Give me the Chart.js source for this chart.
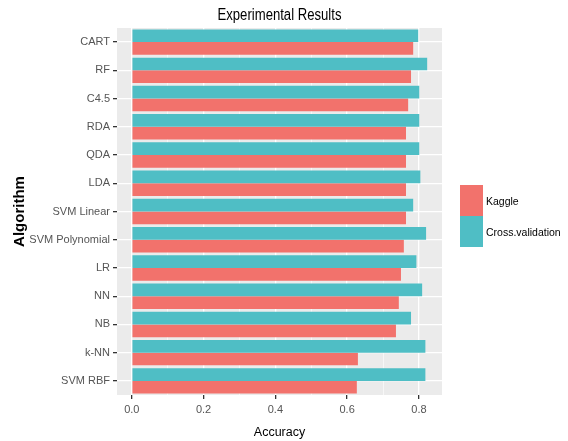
<!DOCTYPE html>
<html>
<head>
<meta charset="utf-8">
<script src="https://cdn.jsdelivr.net/npm/chart.js@4/dist/chart.umd.min.js"></script>
<style>
  html, body { margin: 0; padding: 0; background: #fff; }
  #wrap { position: relative; width: 568px; height: 441px; }
  #title { position: absolute; left: 179px; width: 201px; top: 5px; text-align: center; font-family: "Liberation Sans", Arial, sans-serif; font-size: 16px; line-height: 20px; color: #000; transform: scaleX(0.82); white-space: nowrap; }
  #legend { position: absolute; left: 460px; top: 185px; font-family: "Liberation Sans", Arial, sans-serif; font-size: 10.5px; color: #000; white-space: nowrap; }
  .item { display: flex; align-items: center; height: 31px; }
  .key { width: 23px; height: 31px; margin-right: 3px; }
</style>
</head>
<body>
<div id="wrap">
  <canvas id="chart" width="568" height="441"></canvas>
  <div id="title">Experimental Results</div>
  <div id="legend"></div>
</div>
<script>
// ─── DATA ──────────────────────────────────────────────────
const algorithms = ['CART', 'RF', 'C4.5', 'RDA', 'QDA', 'LDA', 'SVM Linear',
  'SVM Polynomial', 'LR', 'NN', 'NB', 'k-NN', 'SVM RBF'];
const kaggle = [0.784, 0.778, 0.770, 0.764, 0.764, 0.764, 0.764,
  0.758, 0.750, 0.744, 0.736, 0.630, 0.627];
const crossValidation = [0.798, 0.823, 0.801, 0.801, 0.801, 0.804, 0.784,
  0.820, 0.793, 0.809, 0.778, 0.818, 0.818];
const xTicks = [0, 0.1, 0.2, 0.3, 0.4, 0.5, 0.6, 0.7, 0.8];

// ─── COLORS ────────────────────────────────────────────────
const KAGGLE_COLOR = '#F2726C';
const CV_COLOR = '#4FBEC5';
const PANEL_BG = '#EBEBEB';
const TICK_TEXT = '#555555';

const FONT = '"Liberation Sans", Arial, sans-serif';

// grey panel behind the grid
const panelBg = {
  id: 'panelBg',
  beforeDraw(chart) {
    const { ctx, chartArea: a } = chart;
    ctx.save();
    ctx.fillStyle = PANEL_BG;
    ctx.fillRect(a.left, a.top, a.right - a.left, a.bottom - a.top);
    ctx.restore();
  }
};

new Chart(document.getElementById('chart').getContext('2d'), {
  type: 'bar',
  data: {
    labels: algorithms,
    datasets: [
      { label: 'Cross.validation', data: crossValidation, backgroundColor: CV_COLOR },
      { label: 'Kaggle', data: kaggle, backgroundColor: KAGGLE_COLOR }
    ]
  },
  options: {
    indexAxis: 'y',
    responsive: false,
    animation: false,
    categoryPercentage: 0.9,
    barPercentage: 1.0,
    layout: { padding: { left: 0, right: 126, top: 28, bottom: 0 } },
    plugins: {
      legend: { display: false },
      tooltip: { enabled: false }
    },
    scales: {
      x: {
        type: 'linear',
        min: -0.0412,
        max: 0.8643,
        afterBuildTicks: s => { s.ticks = xTicks.map(v => ({ value: v })); },
        afterFit: s => { s.height = 46; },
        border: { display: false },
        grid: {
          color: '#FFFFFF',
          lineWidth: c => (c.index % 2 ? 0.6 : 1.3),
          tickColor: c => (c.index % 2 ? 'rgba(0,0,0,0)' : '#333'),
          tickLength: 4
        },
        ticks: {
          color: TICK_TEXT,
          font: { family: FONT, size: 11 },
          padding: 4,
          callback: (v, i) => (i % 2 ? '' : v.toFixed(1))
        },
        title: {
          display: true,
          text: 'Accuracy',
          color: '#000',
          font: { family: FONT, size: 12.5, lineHeight: 1.2 },
          padding: { top: 0, bottom: 1 }
        }
      },
      y: {
        afterFit: s => { s.width = 117; },
        border: { display: false },
        grid: {
          offset: false,
          color: '#FFFFFF',
          lineWidth: 1.3,
          tickColor: '#333',
          tickLength: 4
        },
        ticks: {
          color: TICK_TEXT,
          font: { family: FONT, size: 11 },
          padding: 3
        },
        title: {
          display: true,
          text: 'Algorithm',
          color: '#000',
          font: { family: FONT, size: 15, weight: 'bold', lineHeight: 1.2 },
          padding: { top: 11, bottom: 0 }
        }
      }
    }
  },
  plugins: [panelBg]
});

// ─── LEGEND (Kaggle first, as in ggplot) ───────────────────
const legendItems = [['Kaggle', KAGGLE_COLOR], ['Cross.validation', CV_COLOR]];
document.getElementById('legend').innerHTML = legendItems.map(([name, col]) => `
  <div class="item"><div class="key" style="background:${col}"></div><span>${name}</span></div>
`).join('');
</script>
</body>
</html>
